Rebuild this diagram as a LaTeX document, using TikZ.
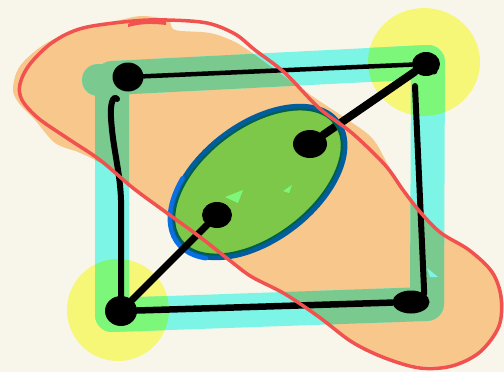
\documentclass[tikz,border=0pt]{standalone}
\usetikzlibrary{shapes.geometric}
\definecolor{bgc}{HTML}{F8F6EB}
\definecolor{orangec}{HTML}{F7C78C}
\definecolor{redc}{HTML}{F2524F}
\definecolor{cyanc}{HTML}{7CF5E7}
\definecolor{tealc}{HTML}{7AC98F}
\definecolor{yellowc}{HTML}{F6F677}
\definecolor{limec}{HTML}{7CF77A}
\definecolor{ellgreen}{HTML}{7DC749}
\definecolor{bluec}{HTML}{005E9E}
\definecolor{brightblue}{HTML}{0A6FE0}
\definecolor{rimc}{HTML}{00604C}
\newcommand\OrangeBlob{plot[smooth cycle,tension=0.55] coordinates {(13,88) (20,66) (45,44) (80,29) (120,20) (142,16) (168,20) (175,30) (210,33) (235,42) (255,55) (285,77) (315,98) (345,118) (372,138) (388,165) (402,190) (420,213) (441,235) (469,251) (492,273) (503,298) (499,328) (480,353) (452,365) (420,366) (385,357) (352,340) (319,316) (285,293) (252,276) (232,262) (200,238) (167,215) (135,190) (115,172) (95,160) (78,152) (55,143) (35,120) (18,102)}}
\newcommand\RedLoop{plot[smooth cycle,tension=0.55] coordinates {(20,84) (30,64) (53,42) (83,28) (133,21) (167,20) (207,23) (235,34) (255,50) (285,73) (319,108) (352,133) (385,165) (403,190) (421,213) (441,233) (469,250) (492,272) (501,297) (499,326) (480,352) (452,366) (420,368) (385,358) (352,342) (319,317) (285,294) (252,277) (233,263) (200,237) (167,213) (133,188) (100,160) (67,138) (38,118) (22,100)}}
\newcommand\BandPath{(112,78) -- (428,62) -- (427,304) -- (112,315) -- cycle}
\tikzset{
  band/.style={line width=34pt, line join=round},
  dot/.style={ellipse, fill=black, inner sep=0pt},
  edge/.style={line width=6pt, line cap=round, black},
  thickedge/.style={line width=8pt, line cap=round, black},
}
\begin{document}
\begin{tikzpicture}[x=1pt,y=-1pt]
\useasboundingbox (0,0) rectangle (504,372);
\fill[bgc] (0,0) rectangle (504,372);
% orange blob
\fill[orangec] \OrangeBlob;
% yellow halos
\fill[yellowc] (424,62) ellipse [x radius=56, y radius=54];
\fill[yellowc] (118,310) circle (51);
% cyan band
\draw[band, cyanc] \BandPath;
\fill[cyanc] (98,80) circle (16);
% band over orange
\begin{scope}
  \clip \OrangeBlob;
  \draw[band, tealc] \BandPath;
  \fill[tealc] (98,80) circle (16);
\end{scope}
% band over yellow
\begin{scope}
  \clip (424,62) ellipse [x radius=56, y radius=54] (118,310) circle (51);
  \draw[band, limec] \BandPath;
\end{scope}
\fill[cyanc] (427,268) -- (438,277) -- (430,277) -- cycle;
% green ellipse
\fill[ellgreen, shift={(258,182)}, rotate=37] (0,0) ellipse [x radius=100, y radius=58];
\fill[limec] (225,197) -- (243,190) -- (238,203) -- cycle;
\fill[limec] (283,191) -- (292,185) -- (289,193) -- cycle;
% dots
\node[dot, minimum width=31pt, minimum height=29pt] (A) at (128,77) {};
\node[dot, minimum width=28pt, minimum height=24pt] (B) at (426,64) {};
\node[dot, minimum width=34pt, minimum height=28pt] (C) at (310,144) {};
\node[dot, minimum width=30pt, minimum height=26pt] (D) at (217,215) {};
\node[dot, minimum width=32pt, minimum height=30pt] (E) at (121,311) {};
\node[dot, minimum width=37pt, minimum height=23pt] (F) at (411,302) {};
\fill[black] (434,71) circle (3.5);
\coordinate (Ahook) at (117,99);
\coordinate (Bdown) at (415,86);
% edges
\draw[edge, line width=4.5pt] (A) -- (B);
\draw[edge] (Ahook) .. controls (113,95) and (110,104) .. (111,118) .. controls (113,150) and (120,170) .. (121,200) -- (E.north);
\draw[edge] (Bdown) -- (F.north east);
\draw[edge, line width=6.5pt] (E) -- (F);
\draw[thickedge] (B) -- (C);
% ellipse outline
\begin{scope}[shift={(258,182)}, rotate=37]
  \draw[rimc, line width=3pt] (0,0) ellipse [x radius=97, y radius=55];
  \draw[bluec, line width=4.5pt] (0,0) ellipse [x radius=100, y radius=58];
  \draw[brightblue, line width=4.5pt, line cap=round] (150:101 and 59) arc [start angle=150, end angle=235, x radius=101, y radius=59];
\end{scope}
\draw[thickedge, line width=7pt] (E) -- (D);
% red outline
\draw[redc, line width=3.5pt] \RedLoop;
\fill[redc] (128,24) .. controls (140,18) and (155,18) .. (166,21) -- (166,25) .. controls (150,23) and (140,24) .. (128,27) -- cycle;
\end{tikzpicture}
\end{document}
